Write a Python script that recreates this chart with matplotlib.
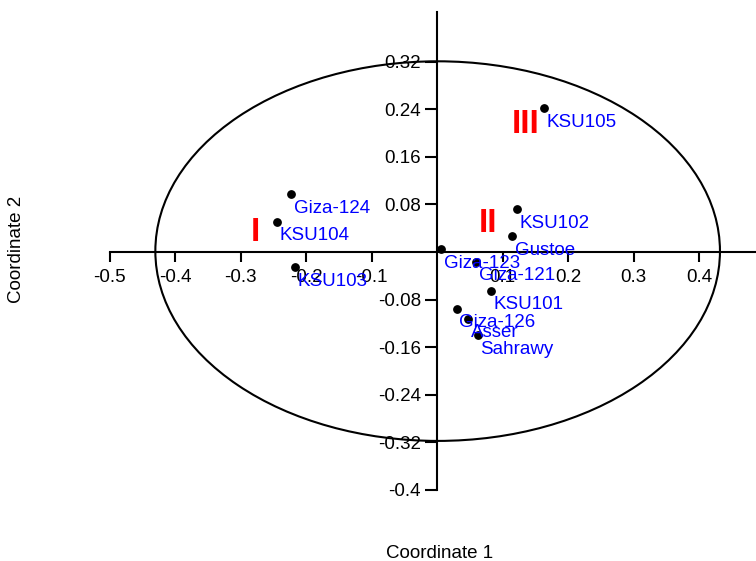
import matplotlib
matplotlib.use('Agg')
import matplotlib.pyplot as plt
from matplotlib.patches import Ellipse

plt.rcParams['font.family'] = ['Liberation Sans', 'DejaVu Sans']

# cultivars, coordinates
names = ['KSU105', 'Giza-124', 'KSU104', 'KSU102', 'Gustoe', 'Giza-123',
         'KSU103', 'Giza-121', 'KSU101', 'Giza-126', 'Asser', 'Sahrawy']
coord1 = [0.163, -0.223, -0.245, 0.122, 0.115, 0.006,
          -0.217, 0.060, 0.082, 0.030, 0.048, 0.062]
coord2 = [0.242, 0.097, 0.051, 0.072, 0.027, 0.005,
          -0.026, -0.016, -0.065, -0.095, -0.112, -0.140]

# cluster numerals
groups = ['I', 'II', 'III']
group_x = [-0.278, 0.078, 0.136]
group_y = [0.0185, 0.0336, 0.1995]

xticks = [-0.5, -0.4, -0.3, -0.2, -0.1, 0.1, 0.2, 0.3, 0.4]
xlabels = ['-0.5', '-0.4', '-0.3', '-0.2', '-0.1', '0.1', '0.2', '0.3', '0.4']
yticks = [-0.4, -0.32, -0.24, -0.16, -0.08, 0.08, 0.16, 0.24, 0.32]
ylabels = ['-0.4', '-0.32', '-0.24', '-0.16', '-0.08', '0.08', '0.16', '0.24', '0.32']

fig = plt.figure(figsize=(7.56, 5.61), dpi=100)
ax = fig.add_axes([0, 0, 1, 1])
ax.set_xlim(-437 / 655, 319 / 655)
ax.set_ylim(-309 / 595, 252 / 595)

for s in ['top', 'right']:
    ax.spines[s].set_visible(False)
ax.spines['bottom'].set_position(('data', 0))
ax.spines['left'].set_position(('data', 0))
ax.spines['bottom'].set_bounds(-0.5, 0.49)
ax.spines['left'].set_bounds(-0.4, 0.403)
for s in ['bottom', 'left']:
    ax.spines[s].set_linewidth(1.5)

ax.set_xticks(xticks)
ax.set_xticklabels(xlabels)
ax.set_yticks(yticks)
ax.set_yticklabels(ylabels)
ax.tick_params(axis='x', direction='out', length=7.5, width=1.5, pad=5, labelsize=13.5)
ax.tick_params(axis='y', direction='out', length=8.5, width=1.5, pad=3, labelsize=13.5)

ax.add_patch(Ellipse((0.001, 0.0015), 0.862, 0.638, fill=False, lw=1.5, color='black'))

ax.scatter(coord1, coord2, s=28, c='black', zorder=3)
for n, x, y in zip(names, coord1, coord2):
    ax.annotate(n, (x, y), xytext=(2, -13.5), textcoords='offset points',
                color='blue', fontsize=13.5, ha='left', va='baseline')

for g, x, y in zip(groups, group_x, group_y):
    ax.text(x, y, g, color='red', fontsize=24, fontweight='bold',
            ha='center', va='baseline')

fig.text(440 / 756, 1 - 553 / 561, 'Coordinate 1', fontsize=13.5, ha='center', va='center')
fig.text(17 / 756, 1 - 249 / 561, 'Coordinate 2', fontsize=13.5, ha='center', va='center',
         rotation=90)

fig.savefig('out.png', dpi=100)
